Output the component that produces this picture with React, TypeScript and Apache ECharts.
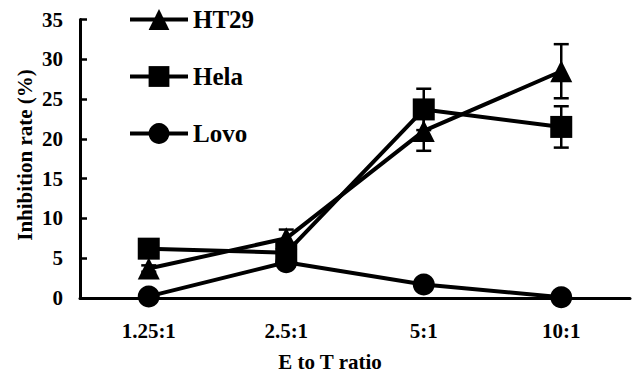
import React, { useEffect, useRef } from "react";
import * as echarts from "echarts";

const categories = ["1.25:1", "2.5:1", "5:1", "10:1"];
const ht29 = [3.7, 7.5, 21.0, 28.5];
const ht29Err = [0.4, 1.1, 2.5, 3.4];
const hela = [6.2, 5.7, 23.7, 21.5];
const helaErr = [0.4, 0.5, 2.6, 2.6];
const lovo = [0.2, 4.5, 1.7, 0.1];
const lovoErr = [0.1, 0.4, 0.3, 0.1];
const seriesNames = ["HT29", "Hela", "Lovo"];
const yTicks = { min: 0, max: 35, interval: 5 };

const FONT = '"Liberation Serif", "Times New Roman", serif';

function errData(vals: number[], errs: number[]) {
  return vals.map((v, i) => [i, v - errs[i], v + errs[i]]);
}

export default function App() {
  const ref = useRef<HTMLDivElement>(null);
  useEffect(() => {
    if (!ref.current) return;
    const chart = echarts.init(ref.current, undefined, { renderer: "svg" });
    const errRender = (params: any, api: any) => {
      const x = api.value(0);
      const lo = api.coord([x, api.value(1)]);
      const hi = api.coord([x, api.value(2)]);
      const hw = 7.5;
      const style = { stroke: "#000", lineWidth: 2.5 };
      return {
        type: "group",
        children: [
          { type: "line", shape: { x1: lo[0], y1: lo[1], x2: hi[0], y2: hi[1] }, style },
          { type: "line", shape: { x1: lo[0] - hw, y1: lo[1], x2: lo[0] + hw, y2: lo[1] }, style },
          { type: "line", shape: { x1: hi[0] - hw, y1: hi[1], x2: hi[0] + hw, y2: hi[1] }, style },
        ],
      };
    };
    const lineSeries = (name: string, data: number[], symbol: string) => ({
      name,
      type: "line",
      data,
      symbol,
      symbolSize: 22,
      showAllSymbol: true,
      lineStyle: { color: "#000", width: 4 },
      itemStyle: { color: "#000", borderWidth: 0 },
      z: 3,
    });
    chart.setOption({
      animation: false,
      grid: { left: 80, right: 8, top: 19.5, bottom: 78 },
      legend: {
        orient: "vertical",
        left: 123,
        top: 2,
        itemWidth: 58,
        itemHeight: 26,
        itemGap: 32,
        data: seriesNames,
        lineStyle: { color: "#000", width: 4 },
        itemStyle: { color: "#000", borderWidth: 0 },
        textStyle: { fontFamily: FONT, fontWeight: "bold", fontSize: 25, color: "#000" },
      },
      xAxis: {
        type: "category",
        data: categories,
        boundaryGap: true,
        axisLine: { lineStyle: { color: "#000", width: 3 } },
        axisTick: { inside: true, length: 8, lineStyle: { color: "#000", width: 2.5 } },
        axisLabel: { margin: 22, fontFamily: FONT, fontWeight: "bold", fontSize: 21, color: "#000" },
        splitLine: { show: false },
      },
      yAxis: {
        type: "value",
        min: yTicks.min,
        max: yTicks.max,
        interval: yTicks.interval,
        axisLine: { show: true, lineStyle: { color: "#000", width: 3 } },
        axisTick: { show: true, inside: true, length: 7, lineStyle: { color: "#000", width: 2.5 } },
        axisLabel: { margin: 17, fontFamily: FONT, fontWeight: "bold", fontSize: 21, color: "#000" },
        splitLine: { show: false },
      },
      graphic: [
        {
          type: "text",
          x: 330,
          y: 362,
          style: {
            text: "E to T ratio",
            fontFamily: FONT,
            fontWeight: "bold",
            fontSize: 21,
            fill: "#000",
            align: "center",
            verticalAlign: "middle",
          },
        },
        {
          type: "text",
          x: 25,
          y: 155,
          rotation: Math.PI / 2,
          style: {
            text: "Inhibition rate (%)",
            fontFamily: FONT,
            fontWeight: "bold",
            fontSize: 21,
            fill: "#000",
            align: "center",
            verticalAlign: "middle",
          },
        },
      ],
      series: [
        { type: "custom", renderItem: errRender, data: errData(ht29, ht29Err), z: 2, silent: true },
        { type: "custom", renderItem: errRender, data: errData(hela, helaErr), z: 2, silent: true },
        { type: "custom", renderItem: errRender, data: errData(lovo, lovoErr), z: 2, silent: true },
        lineSeries("HT29", ht29, "triangle"),
        lineSeries("Hela", hela, "rect"),
        lineSeries("Lovo", lovo, "circle"),
      ],
    });
    return () => chart.dispose();
  }, []);
  return <div ref={ref} style={{ width: 638, height: 376, position: "absolute", left: 0, top: 0 }} />;
}
